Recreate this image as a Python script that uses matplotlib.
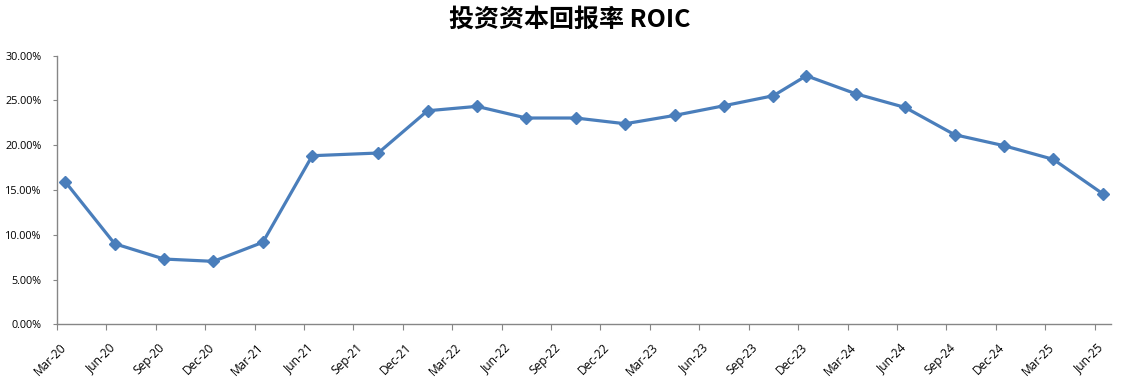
import matplotlib
matplotlib.use("Agg")
import matplotlib.pyplot as plt
import matplotlib.transforms as mtransforms
from matplotlib.ticker import FuncFormatter, MultipleLocator

plt.rcParams['font.family'] = ['Open Sans', 'DejaVu Sans']

# months counted from Mar-2020 (Excel date axis, month base unit)
month_idx = [0, 3, 6, 9, 12, 15, 19, 22, 25, 28, 31, 34, 37, 40, 43, 45,
             48, 51, 54, 57, 60, 63]
roic = [15.92, 9.00, 7.29, 7.03, 9.16, 18.83, 19.13, 23.85, 24.34, 23.04,
        23.04, 22.40, 23.33, 24.41, 25.53, 27.76, 25.75, 24.22, 21.18,
        19.95, 18.42, 14.58]
tick_labels = ['Mar-20', 'Jun-20', 'Sep-20', 'Dec-20', 'Mar-21', 'Jun-21',
               'Sep-21', 'Dec-21', 'Mar-22', 'Jun-22', 'Sep-22', 'Dec-22',
               'Mar-23', 'Jun-23', 'Sep-23', 'Dec-23', 'Mar-24', 'Jun-24',
               'Sep-24', 'Dec-24', 'Mar-25', 'Jun-25']

fig = plt.figure(figsize=(11.23, 3.85), dpi=100)
ax = fig.add_axes([57 / 1123, 60.7 / 385, (1111 - 57) / 1123, 268.6 / 385])

# points sit in the middle of their month slot
xs = [m + 0.5 for m in month_idx]
ax.plot(xs, roic, color='#4A7EBB', lw=2.3, marker='D', ms=6.5,
        markeredgecolor='#4A7EBB', solid_joinstyle='round')

ax.set_xlim(0, 64)
ax.set_ylim(0, 30)
ax.set_xticks(range(0, 64, 3))
ax.set_xticklabels(tick_labels, rotation=45, ha='right', va='center',
                   rotation_mode='anchor', fontsize=8.6)
ax.yaxis.set_major_locator(MultipleLocator(5))
ax.yaxis.set_major_formatter(FuncFormatter(lambda v, p: f"{v:.2f}%"))
ax.tick_params(axis='y', labelsize=7.8, length=3, pad=8, color='#868686')
ax.tick_params(axis='x', length=4, pad=9, color='#868686')

# Excel puts the rotated labels a little right of the tick
shift = mtransforms.ScaledTranslation(7 / 100, -3 / 100, fig.dpi_scale_trans)
for lab in ax.get_xticklabels():
    lab.set_transform(lab.get_transform() + shift)

for s in ['top', 'right']:
    ax.spines[s].set_visible(False)
for s in ['left', 'bottom']:
    ax.spines[s].set_color('#868686')
    ax.spines[s].set_linewidth(1.0)

fig.text(570 / 1123, 1 - 20 / 385, '投资资本回报率 ROIC', ha='center', va='center',
         fontsize=18, fontweight='bold',
         family=['Noto Sans CJK SC', 'DejaVu Sans'])

fig.savefig('out.png', dpi=100)
